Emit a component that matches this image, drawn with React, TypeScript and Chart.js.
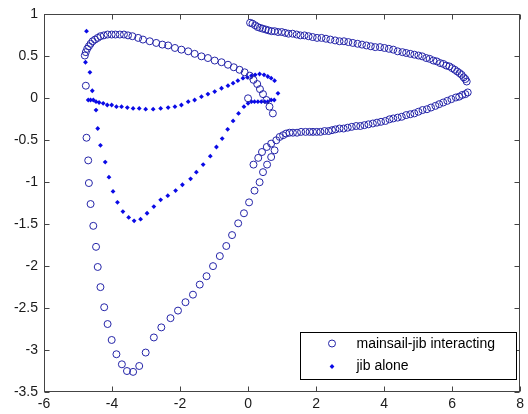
import { useEffect, useRef } from "react";
import { Chart, registerables } from "chart.js";

Chart.register(...registerables);

// ---- axis ticks ----
const xTicks = [-6, -4, -2, 0, 2, 4, 6, 8];
const yTicks = [1, 0.5, 0, -0.5, -1, -1.5, -2, -2.5, -3, -3.5];
const seriesLabels = ["mainsail-jib interacting", "jib alone"];

// ---- mainsail-jib interacting: mainsail upper ----
const mainUpperX = [0.06, 0.13, 0.21, 0.28, 0.35, 0.43, 0.52, 0.6, 0.69, 0.78, 0.88, 0.99, 1.09, 1.19, 1.31, 1.43, 1.54, 1.66, 1.78, 1.9, 2.03, 2.16, 2.29, 2.42, 2.56, 2.69, 2.82, 2.95, 3.08, 3.22, 3.35, 3.48, 3.61, 3.74, 3.88, 4.01, 4.14, 4.27, 4.4, 4.54, 4.65, 4.77, 4.89, 5.01, 5.12, 5.24, 5.34, 5.45, 5.55, 5.65, 5.74, 5.83, 5.92, 6.0, 6.08, 6.15, 6.22, 6.28, 6.34, 6.39, 6.43];
const mainUpperY = [0.9, 0.89, 0.87, 0.85, 0.84, 0.83, 0.82, 0.81, 0.8, 0.8, 0.79, 0.79, 0.78, 0.77, 0.77, 0.76, 0.75, 0.75, 0.74, 0.73, 0.72, 0.72, 0.71, 0.7, 0.69, 0.68, 0.68, 0.67, 0.66, 0.65, 0.64, 0.63, 0.62, 0.61, 0.61, 0.6, 0.59, 0.58, 0.56, 0.55, 0.54, 0.53, 0.52, 0.51, 0.5, 0.48, 0.47, 0.45, 0.44, 0.42, 0.41, 0.39, 0.38, 0.36, 0.34, 0.32, 0.3, 0.28, 0.25, 0.23, 0.2];

// ---- mainsail-jib interacting: mainsail lower ----
const mainLowerX = [6.46, 6.39, 6.3, 6.21, 6.11, 5.98, 5.86, 5.74, 5.62, 5.51, 5.38, 5.26, 5.13, 5.01, 4.89, 4.77, 4.65, 4.52, 4.4, 4.27, 4.16, 4.04, 3.91, 3.79, 3.67, 3.54, 3.42, 3.3, 3.18, 3.05, 2.93, 2.81, 2.69, 2.57, 2.47, 2.37, 2.25, 2.13, 2.02, 1.91, 1.81, 1.69, 1.56, 1.44, 1.32, 1.22, 1.12, 1.03, 0.93, 0.83, 0.68, 0.55, 0.41, 0.3, 0.16];
const mainLowerY = [0.07, 0.05, 0.04, 0.02, 0.01, -0.01, -0.03, -0.05, -0.07, -0.09, -0.11, -0.13, -0.14, -0.16, -0.18, -0.19, -0.2, -0.22, -0.23, -0.24, -0.25, -0.27, -0.28, -0.29, -0.3, -0.31, -0.32, -0.33, -0.33, -0.34, -0.35, -0.36, -0.36, -0.37, -0.38, -0.39, -0.39, -0.4, -0.4, -0.4, -0.4, -0.4, -0.4, -0.41, -0.41, -0.41, -0.42, -0.44, -0.46, -0.5, -0.54, -0.58, -0.64, -0.71, -0.79];

// ---- mainsail-jib interacting: jib upper ----
const jibUpperX = [-4.8, -4.77, -4.73, -4.68, -4.63, -4.57, -4.5, -4.42, -4.34, -4.24, -4.13, -4.01, -3.9, -3.77, -3.65, -3.53, -3.4, -3.23, -3.09, -2.89, -2.7, -2.52, -2.35, -2.15, -1.96, -1.76, -1.57, -1.37, -1.18, -0.98, -0.78, -0.59, -0.42, -0.25, -0.1, 0.05, 0.16, 0.27, 0.35, 0.44, 0.54, 0.63, 0.73];
const jibUpperY = [0.51, 0.55, 0.59, 0.62, 0.65, 0.68, 0.7, 0.72, 0.74, 0.75, 0.76, 0.76, 0.76, 0.76, 0.76, 0.75, 0.74, 0.72, 0.7, 0.68, 0.66, 0.64, 0.63, 0.6, 0.58, 0.56, 0.53, 0.5, 0.48, 0.45, 0.43, 0.4, 0.37, 0.34, 0.31, 0.27, 0.22, 0.17, 0.11, 0.05, -0.02, -0.1, -0.18];

// ---- mainsail-jib interacting: jib lower ----
const jibLowerX = [-4.77, -4.75, -4.7, -4.68, -4.63, -4.55, -4.47, -4.42, -4.34, -4.23, -4.13, -4.01, -3.87, -3.71, -3.56, -3.38, -3.2, -3.01, -2.77, -2.55, -2.28, -2.06, -1.84, -1.62, -1.42, -1.22, -1.03, -0.83, -0.64, -0.47, -0.29, -0.12, 0.03, 0.19, 0.34, 0.44, 0.56, 0.68, 0.78];
const jibLowerY = [0.15, -0.47, -0.74, -1.01, -1.26, -1.52, -1.77, -2.01, -2.25, -2.49, -2.69, -2.88, -3.05, -3.17, -3.25, -3.26, -3.19, -3.03, -2.85, -2.73, -2.62, -2.53, -2.43, -2.34, -2.22, -2.12, -2.0, -1.88, -1.76, -1.63, -1.49, -1.37, -1.24, -1.1, -1.0, -0.88, -0.79, -0.7, -0.62];

// ---- mainsail-jib interacting: lone point near origin ----
const extraX = [0.0];
const extraY = [0.0];

// ---- jib alone ----
const jibAloneLowerX = [-4.75, -4.78, -4.65, -4.58, -4.47, -4.42, -4.34, -4.2, -4.09, -3.97, -3.84, -3.68, -3.51, -3.35, -3.16, -2.97, -2.77, -2.57, -2.36, -2.13, -1.93, -1.69, -1.52, -1.32, -1.11, -0.93, -0.76, -0.6, -0.44, -0.28, -0.12, 0.0, 0.1, 0.19, 0.29, 0.39, 0.49, 0.58, 0.68, 0.77, 0.88];
const jibAloneLowerY = [0.8, 0.43, 0.31, 0.09, -0.14, -0.36, -0.56, -0.76, -0.94, -1.11, -1.24, -1.35, -1.42, -1.46, -1.44, -1.37, -1.29, -1.21, -1.16, -1.1, -1.03, -0.96, -0.88, -0.79, -0.69, -0.58, -0.48, -0.37, -0.27, -0.18, -0.1, -0.06, -0.04, -0.04, -0.04, -0.04, -0.04, -0.04, -0.02, -0.02, 0.06];
const jibAloneUpperX = [-4.7, -4.63, -4.55, -4.47, -4.38, -4.26, -4.14, -4.01, -3.87, -3.72, -3.55, -3.38, -3.2, -3.01, -2.79, -2.57, -2.35, -2.15, -1.96, -1.76, -1.57, -1.37, -1.18, -0.98, -0.78, -0.59, -0.44, -0.3, -0.15, -0.02, 0.1, 0.21, 0.34, 0.47, 0.58, 0.68, 0.78];
const jibAloneUpperY = [-0.02, -0.02, -0.02, -0.04, -0.05, -0.06, -0.08, -0.08, -0.1, -0.1, -0.11, -0.12, -0.12, -0.13, -0.13, -0.12, -0.11, -0.1, -0.08, -0.04, -0.02, 0.02, 0.05, 0.08, 0.12, 0.15, 0.18, 0.21, 0.24, 0.25, 0.27, 0.28, 0.29, 0.28, 0.26, 0.24, 0.21];

const CIRCLE_COLOR = "#2424a8";
const DOT_COLOR = "#0a0ae6";
const FRAME_COLOR = "#444444";
const FONT_FAMILY = "'Liberation Sans', Arial, sans-serif";

function zip(xs: number[], ys: number[]) {
  const n = Math.min(xs.length, ys.length);
  const out: { x: number; y: number }[] = [];
  for (let i = 0; i < n; i++) out.push({ x: xs[i], y: ys[i] });
  return out;
}

const framePlugin = {
  id: "matlabFrame",
  afterDraw(chart: any) {
    const { ctx, chartArea: ca, scales } = chart;
    ctx.save();
    ctx.strokeStyle = FRAME_COLOR;
    ctx.lineWidth = 1;
    const L = Math.round(ca.left) + 0.5;
    const R = Math.round(ca.right) - 0.5;
    const T = Math.round(ca.top) + 0.5;
    const B = Math.round(ca.bottom) - 0.5;
    ctx.strokeRect(L, T, R - L, B - T);
    const tl = 5;
    ctx.beginPath();
    for (const v of xTicks) {
      const px = Math.round(scales.x.getPixelForValue(v)) + 0.5;
      ctx.moveTo(px, B);
      ctx.lineTo(px, B - tl);
      ctx.moveTo(px, T);
      ctx.lineTo(px, T + tl);
    }
    for (const v of yTicks) {
      const py = Math.round(scales.y.getPixelForValue(v)) + 0.5;
      ctx.moveTo(L, py);
      ctx.lineTo(L + tl, py);
      ctx.moveTo(R, py);
      ctx.lineTo(R - tl, py);
    }
    ctx.stroke();

    // legend box (inside lower-right)
    const bw = 216;
    const bh = 47;
    const bx = Math.round(ca.right - 4 - bw) + 0.5;
    const by = Math.round(ca.bottom - 13 - bh) + 0.5;
    ctx.fillStyle = "#ffffff";
    ctx.fillRect(bx, by, bw, bh);
    ctx.strokeStyle = "#000000";
    ctx.strokeRect(bx, by, bw, bh);

    const mx = bx + 31.5;
    const row1 = by + 11;
    const row2 = by + 34;
    ctx.beginPath();
    ctx.strokeStyle = CIRCLE_COLOR;
    ctx.arc(mx, row1, 3.5, 0, Math.PI * 2);
    ctx.stroke();
    ctx.fillStyle = DOT_COLOR;
    ctx.beginPath();
    ctx.moveTo(mx, row2 - 2.4);
    ctx.lineTo(mx + 2.4, row2);
    ctx.lineTo(mx, row2 + 2.4);
    ctx.lineTo(mx - 2.4, row2);
    ctx.closePath();
    ctx.fill();

    ctx.fillStyle = "#000000";
    ctx.font = `14px ${FONT_FAMILY}`;
    ctx.textBaseline = "middle";
    ctx.textAlign = "left";
    ctx.fillText(seriesLabels[0], bx + 56, row1 + 1);
    ctx.fillText(seriesLabels[1], bx + 56, row2);
    ctx.restore();
  },
};

export default function App() {
  const ref = useRef<HTMLCanvasElement | null>(null);

  useEffect(() => {
    document.body.style.margin = "0";
    const canvas = ref.current;
    if (!canvas) return;

    const interacting = [
      ...zip(mainUpperX, mainUpperY),
      ...zip(mainLowerX, mainLowerY),
      ...zip(jibUpperX, jibUpperY),
      ...zip(jibLowerX, jibLowerY),
      ...zip(extraX, extraY),
    ];
    const alone = [...zip(jibAloneLowerX, jibAloneLowerY), ...zip(jibAloneUpperX, jibAloneUpperY)];

    const tickFont = { family: FONT_FAMILY, size: 14 };

    const chart = new Chart(canvas, {
      type: "scatter",
      data: {
        datasets: [
          {
            label: seriesLabels[0],
            data: interacting,
            showLine: false,
            pointStyle: "circle",
            pointRadius: 3.5,
            pointBorderWidth: 1,
            pointBackgroundColor: "rgba(0,0,0,0)",
            pointBorderColor: CIRCLE_COLOR,
          },
          {
            label: seriesLabels[1],
            data: alone,
            showLine: false,
            pointStyle: "rectRot",
            pointRadius: 2.4,
            pointBorderWidth: 0,
            pointBackgroundColor: DOT_COLOR,
            pointBorderColor: DOT_COLOR,
          },
        ],
      },
      options: {
        animation: false,
        responsive: false,
        maintainAspectRatio: false,
        events: [],
        layout: { padding: { top: 14, right: 7, left: 0, bottom: 0 } },
        plugins: { legend: { display: false }, tooltip: { enabled: false } },
        scales: {
          x: {
            type: "linear",
            min: -6,
            max: 8,
            afterBuildTicks: (axis: any) => {
              axis.ticks = xTicks.map((v) => ({ value: v }));
            },
            afterFit: (axis: any) => {
              axis.height = 22;
            },
            grid: { display: false, drawTicks: false },
            border: { display: false },
            ticks: {
              padding: 4,
              font: tickFont,
              color: "#1a1a1a",
              maxRotation: 0,
              autoSkip: false,
              callback: (v: any) => String(v),
            },
          },
          y: {
            type: "linear",
            min: -3.5,
            max: 1,
            afterBuildTicks: (axis: any) => {
              axis.ticks = yTicks.map((v) => ({ value: v }));
            },
            afterFit: (axis: any) => {
              axis.width = 44;
            },
            grid: { display: false, drawTicks: false },
            border: { display: false },
            ticks: {
              padding: 6,
              font: tickFont,
              color: "#1a1a1a",
              autoSkip: false,
              callback: (v: any) => String(v),
            },
          },
        },
      },
      plugins: [framePlugin],
    });

    return () => chart.destroy();
  }, []);

  return (
    <div style={{ position: "fixed", left: 0, top: 0, width: 528, height: 414, background: "#fff" }}>
      <canvas ref={ref} width={528} height={414} style={{ width: 528, height: 414, display: "block" }} />
    </div>
  );
}
